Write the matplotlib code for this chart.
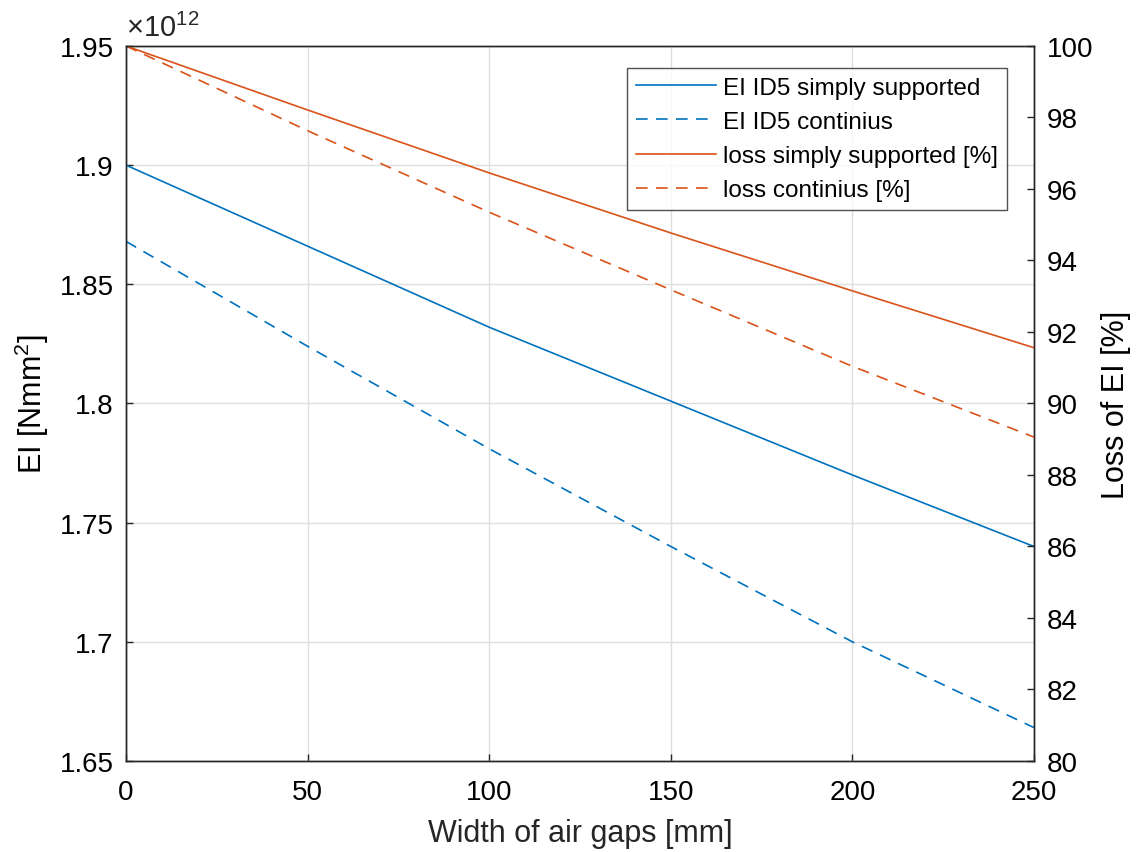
import matplotlib
matplotlib.use("Agg")
import matplotlib.pyplot as plt

plt.rcParams['font.family'] = ['Liberation Sans', 'DejaVu Sans']
plt.rcParams['mathtext.default'] = 'regular'

# width of air gaps [mm]
gap_width = [0, 50, 100, 150, 200, 250]

# EI in units of 1e12 Nmm^2
ei_simply = [1.900, 1.866, 1.832, 1.801, 1.770, 1.740]
ei_contin = [1.868, 1.824, 1.781, 1.740, 1.700, 1.664]

# remaining EI [%]
loss_simply = [100.0, 98.21, 96.45, 94.77, 93.15, 91.56]
loss_contin = [100.0, 97.63, 95.35, 93.18, 91.04, 89.06]

blue = '#0072BD'
orange = '#D95319'
dark = '#262626'

fig = plt.figure(figsize=(11.48, 8.53), dpi=100)
ax = fig.add_axes([0.1098, 0.1067, 0.7909, 0.8382])
ax2 = ax.twinx()

l1, = ax.plot(gap_width, ei_simply, color=blue, lw=1.2, label='EI ID5 simply supported')
l2, = ax.plot(gap_width, ei_contin, color=blue, lw=1.2, ls=(0, (7, 5)), label='EI ID5 continius')
l3, = ax2.plot(gap_width, loss_simply, color=orange, lw=1.2, label='loss simply supported [%]')
l4, = ax2.plot(gap_width, loss_contin, color=orange, lw=1.2, ls=(0, (7, 5)), label='loss continius [%]')

ax.set_xlim(0, 250)
ax.set_ylim(1.65, 1.95)
ax2.set_ylim(80, 100)
ax.set_xticks([0, 50, 100, 150, 200, 250])
ax.set_yticks([1.65, 1.7, 1.75, 1.8, 1.85, 1.9, 1.95])
ax.set_yticklabels(['1.65', '1.7', '1.75', '1.8', '1.85', '1.9', '1.95'])
ax2.set_yticks(range(80, 101, 2))

ax.grid(True, color='#dedede', lw=1.0)
ax.set_axisbelow(True)

for a in (ax, ax2):
    a.tick_params(direction='in', length=5, width=1, labelsize=20, colors=dark,
                  labelcolor='black', pad=9)
    for s in a.spines.values():
        s.set_color(dark)
        s.set_linewidth(1.0)
ax.tick_params(axis='x', pad=13)

ax.set_xlabel('Width of air gaps [mm]', fontsize=22, color=dark, labelpad=9)
ax.set_ylabel('EI [Nmm$^2$]', fontsize=22, color='black', labelpad=6)
ax2.set_ylabel('Loss of EI [%]', fontsize=22, color='black', labelpad=6)

ax.text(0.0, 1.006, '×10$^{12}$', transform=ax.transAxes, fontsize=21,
        ha='left', va='bottom', color=dark)

leg = ax2.legend(handles=[l1, l2, l3, l4], loc='upper right',
                 bbox_to_anchor=(0.970, 0.969), borderaxespad=0, fontsize=17.5,
                 frameon=True, fancybox=False, edgecolor=dark, handlelength=3.3,
                 borderpad=0.35, labelspacing=0.5, handletextpad=0.3)
leg.get_frame().set_linewidth(1.0)

fig.savefig('out.png', dpi=100)
